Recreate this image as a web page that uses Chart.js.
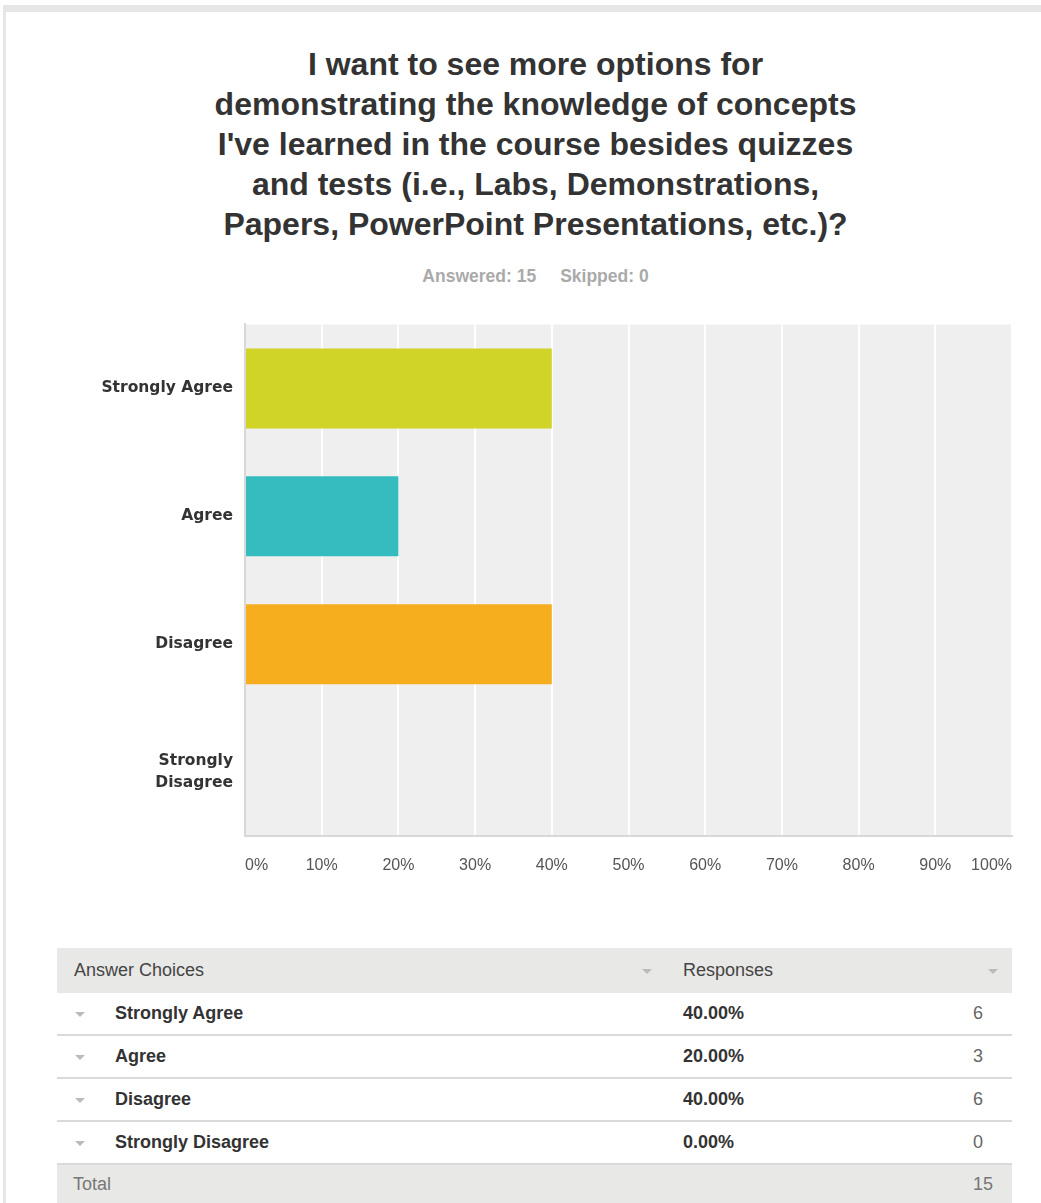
<!DOCTYPE html>
<html>
<head>
<meta charset="utf-8">
<script src="https://cdn.jsdelivr.net/npm/chart.js@4/dist/chart.umd.min.js"></script>
<style>
  html, body { margin: 0; padding: 0; background: #fff; }
  body { width: 1041px; height: 1203px; position: relative; overflow: hidden; font-family: "Liberation Sans", Arial, sans-serif; }
  .frame { position: absolute; left: 3px; top: 5px; right: -10px; bottom: -10px; border-top: 7px solid #e6e6e4; border-left: 3px solid #e6e6e4; }
  .title { position: absolute; left: 0; width: 1071px; top: 44px; text-align: center; font-weight: bold; font-size: 32px; line-height: 40px; color: #333; }
  .meta { position: absolute; left: 0; width: 1071px; top: 266px; text-align: center; font-weight: bold; font-size: 17.5px; color: #aaa; }
  .meta span + span { margin-left: 24px; }
  #chartWrap { position: absolute; left: 0; top: 290px; width: 1041px; height: 610px; }
  table { position: absolute; left: 57px; top: 948px; width: 955px; border-collapse: collapse; table-layout: fixed; font-family: "Liberation Sans", Arial, sans-serif; font-size: 18px; color: #333; }
  th { background: #e8e8e6; font-weight: normal; text-align: left; height: 45px; padding: 0; color: #444; }
  td { height: 41px; padding: 0; border-bottom: 2px solid #dadada; }
  tr.total td { background: #e8e8e6; border-bottom: none; height: 38px; color: #777; }
  .caret { display: inline-block; width: 0; height: 0; border-left: 5px solid transparent; border-right: 5px solid transparent; border-top: 5px solid #bbb; vertical-align: middle; }
  .name { font-weight: bold; }
  .pct { font-weight: bold; }
  .cnt { text-align: right; padding-right: 35px; color: #666; }
</style>
</head>
<body>
<div class="frame"></div>
<div class="title" id="title"></div>
<div class="meta" id="meta"></div>
<div id="chartWrap"><canvas id="surveyChart" width="1041" height="610"></canvas></div>
<table id="responses"></table>
<script>
const titleLines = [
  'I want to see more options for',
  'demonstrating the knowledge of concepts',
  "I've learned in the course besides quizzes",
  'and tests (i.e., Labs, Demonstrations,',
  'Papers, PowerPoint Presentations, etc.)?'
];
const answerChoices = ['Strongly Agree', 'Agree', 'Disagree', 'Strongly Disagree'];
const axisLabels = [['Strongly Agree'], ['Agree'], ['Disagree'], ['Strongly', 'Disagree']];
const responsePercents = [40, 20, 40, 0];
const responseCounts = [6, 3, 6, 0];
const barColors = ['#cfd427', '#34bcbf', '#f7ae1e', '#e0566b'];
const answered = 15;
const skipped = 0;

document.getElementById('title').innerHTML = titleLines.join('<br>');
document.getElementById('meta').innerHTML =
  '<span>Answered: ' + answered + '</span><span>Skipped: ' + skipped + '</span>';

// grey plot background behind the bars
const plotBackground = {
  id: 'plotBackground',
  beforeDraw(chart) {
    const { ctx, chartArea: a } = chart;
    ctx.save();
    ctx.fillStyle = '#efefef';
    ctx.fillRect(a.left, a.top, a.right - a.left, a.bottom - a.top);
    ctx.restore();
  }
};

new Chart(document.getElementById('surveyChart'), {
  type: 'bar',
  data: {
    labels: axisLabels,
    datasets: [{
      data: responsePercents,
      backgroundColor: barColors,
      barPercentage: 0.625,
      categoryPercentage: 1
    }]
  },
  options: {
    indexAxis: 'y',
    responsive: false,
    animation: false,
    layout: { padding: { top: 13, right: 29, left: 0, bottom: 0 } },
    plugins: { legend: { display: false }, tooltip: { enabled: false } },
    scales: {
      x: {
        min: 0,
        max: 100,
        ticks: {
          stepSize: 10,
          align: 'inner',
          padding: 20,
          color: '#555',
          font: { family: '"Liberation Sans", Arial', size: 16 },
          callback: v => v + '%'
        },
        grid: { color: '#ffffff', lineWidth: 2, drawTicks: false },
        border: { display: true, color: '#d8d8d8', width: 2 },
        afterFit: s => { s.height = 64; }
      },
      y: {
        ticks: {
          padding: 12,
          color: '#333',
          font: { family: '"DejaVu Sans", sans-serif', size: 15.5, weight: 'bold', lineHeight: 1.45 }
        },
        grid: { display: false, drawTicks: false },
        border: { display: true, color: '#d8d8d8', width: 2 },
        afterFit: s => { s.width = 245; }
      }
    }
  },
  plugins: [plotBackground]
});

// response table
const table = document.getElementById('responses');
let html = '<colgroup><col style="width:585px"><col style="width:41px"><col style="width:290px"><col></colgroup>' +
  '<tr><th style="padding-left:17px">Answer Choices</th>' +
  '<th><span class="caret"></span></th>' +
  '<th>Responses</th><th style="text-align:right;padding-right:14px"><span class="caret"></span></th></tr>';
answerChoices.forEach((name, i) => {
  html += '<tr><td colspan="2" style="padding-left:18px"><span class="caret"></span>' +
    '<span class="name" style="margin-left:30px">' + name + '</span></td>' +
    '<td class="pct">' + responsePercents[i].toFixed(2) + '%</td>' +
    '<td class="cnt">' + responseCounts[i] + '</td></tr>';
});
const total = responseCounts.reduce((a, b) => a + b, 0);
html += '<tr class="total"><td colspan="3" style="padding-left:16px">Total</td><td class="cnt">' + total + '</td></tr>';
table.innerHTML = html;
</script>
</body>
</html>
